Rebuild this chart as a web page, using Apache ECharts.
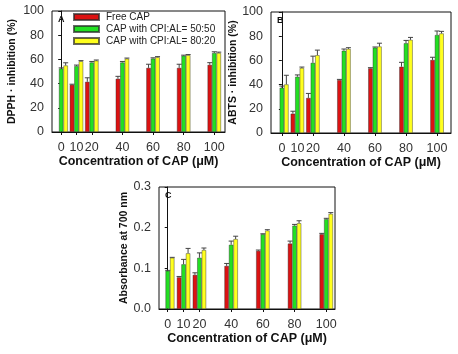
<!DOCTYPE html>
<html><head><meta charset="utf-8">
<script src="https://cdn.jsdelivr.net/npm/echarts@6/dist/echarts.min.js"></script>
<style>html,body{margin:0;padding:0;background:#fff}#c{width:458px;height:354px}</style>
</head><body><div id="c"></div>
<script>
// ---- data ----
const conc = [0, 10, 20, 40, 60, 80, 100];
const seriesNames = ['Free CAP', 'CAP with CPI:AL= 50:50', 'CAP with CPI:AL= 80:20'];

const dpphFree    = [null, 39, 41.5, 44, 53, 53, 55.5];
const dpphFreeErr = [null, 0.5, 3.3, 2, 3, 3, 1.8];
const dpph5050    = [52.5, 54.5, 57.5, 57.5, 60.7, 63, 65.3];
const dpph5050Err = [0.5, 0.8, 0.8, 0.8, 0.6, 0.5, 1];
const dpph8020    = [55, 58.5, 59, 60.6, 61.8, 63.5, 65.3];
const dpph8020Err = [2.2, 0.5, 0.5, 0.5, 0.5, 0.5, 0.7];

const abtsFree    = [null, 16, 29, 43.8, 53.5, 54.8, 60.4];
const abtsFreeErr = [null, 2, 3.7, 0.5, 0.5, 3.6, 2.2];
const abts5050    = [37.4, 46.5, 58, 68, 70.6, 74.2, 81];
const abts5050Err = [1.4, 1.5, 5.5, 1.4, 0.5, 2.3, 3.3];
const abts8020    = [40.2, 53.7, 64.3, 69.5, 71.5, 77, 82.3];
const abts8020Err = [7.5, 0.8, 4.2, 1, 2.7, 2, 1.7];

const absFree     = [null, 0.078, 0.084, 0.106, 0.143, 0.161, 0.184];
const absFreeErr  = [null, 0.002, 0.005, 0.006, 0.002, 0.006, 0.002];
const abs5050     = [0.094, 0.110, 0.126, 0.158, 0.184, 0.205, 0.221];
const abs5050Err  = [0.001, 0.012, 0.012, 0.009, 0.001, 0.003, 0.002];
const abs8020     = [0.126, 0.137, 0.145, 0.172, 0.193, 0.211, 0.234];
const abs8020Err  = [0.001, 0.012, 0.005, 0.007, 0.002, 0.006, 0.003];

// ---- style ----
const FONT = 'Liberation Sans';
const colors = ['#dc1212', '#22e022', '#ffff1e'];
const BW = 4.5;

const panels = [
  { vals: [dpphFree, dpph5050, dpph8020], errs: [dpphFreeErr, dpph5050Err, dpph8020Err],
    grid: { left: 52, top: 11, width: 173, height: 121 }, xmin: -6, xmax: 107,
    ymax: 100, yint: 20, yname: 'DPPH · inhibition (%)', ygap: 34, fmt: v => String(v), letter: 'A' },
  { vals: [abtsFree, abts5050, abts8020], errs: [abtsFreeErr, abts5050Err, abts8020Err],
    grid: { left: 271, top: 12, width: 180, height: 121 }, xmin: -7, xmax: 109,
    ymax: 100, yint: 20, yname: 'ABTS · inhibition (%)', ygap: 26, fmt: v => String(v), letter: 'B' },
  { vals: [absFree, abs5050, abs8020], errs: [absFreeErr, abs5050Err, abs8020Err],
    grid: { left: 159, top: 187, width: 176, height: 122 }, xmin: -5.5, xmax: 105.5,
    ymax: 0.3, yint: 0.1, yname: 'Absorbance at 700 nm', ygap: 29, fmt: v => v.toFixed(1), letter: 'C' }
];

const grids = [], xAxes = [], yAxes = [], series = [], graphics = [];
panels.forEach((p, pi) => {
  grids.push(Object.assign({ show: true, borderColor: '#111', borderWidth: 1, backgroundColor: 'transparent' }, p.grid));
  xAxes.push({
    type: 'value', gridIndex: pi, min: p.xmin, max: p.xmax,
    name: 'Concentration of CAP (μM)', nameLocation: 'middle', nameGap: 23,
    nameTextStyle: { fontFamily: FONT, fontWeight: 'bold', fontSize: 12.5, color: '#111' },
    axisLine: { lineStyle: { color: '#111', width: 1 } },
    axisTick: { show: true, customValues: conc, length: 3, lineStyle: { color: '#111' } },
    axisLabel: { customValues: conc, margin: 9, fontFamily: FONT, fontSize: 12.5, color: '#333' },
    splitLine: { show: false }
  });
  yAxes.push({
    type: 'value', gridIndex: pi, min: 0, max: p.ymax, interval: p.yint,
    name: p.yname, nameLocation: 'middle', nameGap: p.ygap,
    nameTextStyle: { fontFamily: FONT, fontWeight: 'bold', fontSize: 10.5, color: '#111' },
    axisLine: { show: true, lineStyle: { color: '#111', width: 1 } },
    axisTick: { show: true, length: 3, lineStyle: { color: '#111' } },
    axisLabel: { margin: 8, fontFamily: FONT, fontSize: 12.5, color: '#333', formatter: p.fmt },
    splitLine: { show: false }
  });
  p.vals.forEach((arr, si) => {
    series.push({
      type: 'bar', name: seriesNames[si], xAxisIndex: pi, yAxisIndex: pi,
      barWidth: BW, barGap: '0%',
      itemStyle: { color: colors[si], borderColor: 'rgba(40,40,40,0.7)', borderWidth: 0.6 },
      data: conc.map((c, i) => [c, arr[i] == null ? '-' : arr[i]]),
      z: 2, silent: true
    });
  });
  p.vals.forEach((arr, si) => {
    const errArr = p.errs[si];
    const data = [];
    conc.forEach((c, i) => { if (arr[i] != null) data.push([c, arr[i], errArr[i]]); });
    series.push({
      type: 'custom', xAxisIndex: pi, yAxisIndex: pi, z: 3, silent: true,
      data: data,
      renderItem: function (params, api) {
        const x = api.value(0), v = api.value(1), e = api.value(2);
        const p0 = api.coord([x, v]);
        const p1 = api.coord([x, v + e]);
        const cx = p0[0] + (si - 1) * BW;
        const st = { stroke: '#444', lineWidth: 1 };
        return { type: 'group', children: [
          { type: 'line', shape: { x1: cx, y1: p0[1], x2: cx, y2: p1[1] }, style: st },
          { type: 'line', shape: { x1: cx - 2.5, y1: p1[1], x2: cx + 2.5, y2: p1[1] }, style: st }
        ] };
      }
    });
  });
  graphics.push({
    type: 'text', left: p.grid.left + 6, top: p.grid.top + 4,
    style: { text: p.letter, font: 'bold 9px "' + FONT + '"', fill: '#111' }
  });
});

const chart = echarts.init(document.getElementById('c'), null, { renderer: 'canvas' });
chart.setOption({
  animation: false,
  backgroundColor: '#fff',
  grid: grids, xAxis: xAxes, yAxis: yAxes, series: series,
  graphic: graphics,
  legend: {
    data: seriesNames, orient: 'vertical', left: 73, top: 11,
    itemWidth: 25, itemHeight: 6, itemGap: 0, icon: 'rect',
    textStyle: { fontFamily: FONT, fontSize: 10, color: '#222', lineHeight: 12, padding: [0, 0, 0, 2] },
    padding: 0
  }
});
</script></body></html>
